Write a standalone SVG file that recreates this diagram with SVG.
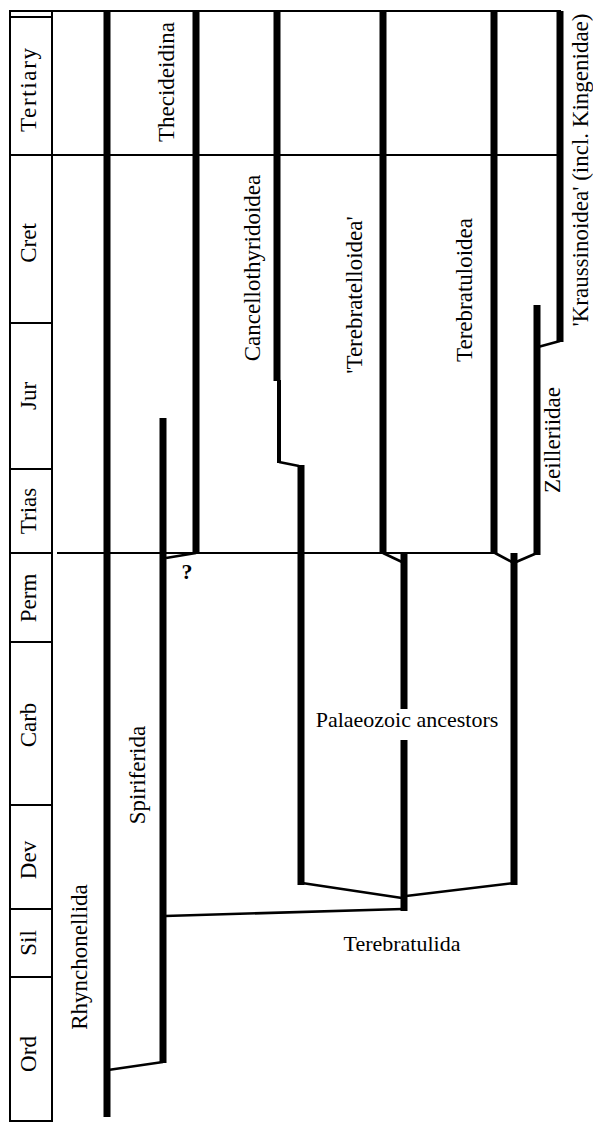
<svg xmlns="http://www.w3.org/2000/svg" width="593" height="1123" viewBox="0 0 593 1123">
<style>
text{font-family:"Liberation Serif","Times New Roman",serif;fill:#000}
.lbl{font-size:23px;text-anchor:middle}
.hl{font-size:22px;text-anchor:middle}
.thick{stroke:#000;stroke-width:7;fill:none}
.med{stroke:#000;stroke-width:4;fill:none}
.thin{stroke:#000;stroke-width:2;fill:none}
.conn{stroke:#000;stroke-width:2.6;fill:none}
</style>
<rect x="0" y="0" width="593" height="1123" fill="#fff"/>
<g id="timescale">
<line class="thin" x1="9" y1="11" x2="561" y2="11"/>
<line class="thin" x1="10" y1="17" x2="52" y2="17"/>
<line class="thin" x1="9" y1="155" x2="561" y2="155"/>
<line class="thin" x1="10" y1="11" x2="10" y2="1121"/>
<line class="thin" x1="52" y1="11" x2="52" y2="1121"/>
<line class="thin" x1="9" y1="1121" x2="53" y2="1121"/>
<line class="thin" x1="10" y1="323" x2="52" y2="323"/>
<line class="thin" x1="10" y1="469" x2="52" y2="469"/>
<line class="thin" x1="10" y1="553" x2="52" y2="553"/>
<line class="thin" x1="10" y1="642" x2="52" y2="642"/>
<line class="thin" x1="10" y1="805" x2="52" y2="805"/>
<line class="thin" x1="10" y1="909" x2="52" y2="909"/>
<line class="thin" x1="10" y1="977" x2="52" y2="977"/>
<text class="lbl" transform="translate(36,90) rotate(-90)" textLength="84" lengthAdjust="spacing">Tertiary</text>
<text class="lbl" transform="translate(36,243) rotate(-90)">Cret</text>
<text class="lbl" transform="translate(36,396) rotate(-90)">Jur</text>
<text class="lbl" transform="translate(36,511) rotate(-90)">Trias</text>
<text class="lbl" transform="translate(36,598) rotate(-90)">Perm</text>
<text class="lbl" transform="translate(36,725) rotate(-90)">Carb</text>
<text class="lbl" transform="translate(36,860) rotate(-90)">Dev</text>
<text class="lbl" transform="translate(36,943) rotate(-90)">Sil</text>
<text class="lbl" transform="translate(36,1054) rotate(-90)">Ord</text>
</g>
<g id="rhynchonellida">
<line class="thick" x1="107" y1="11" x2="107" y2="1117"/>
<text class="lbl" transform="translate(87,957) rotate(-90)">Rhynchonellida</text>
</g>
<g id="spiriferida">
<line class="thick" x1="163" y1="418" x2="163" y2="1063"/>
<text class="lbl" transform="translate(145,775) rotate(-90)">Spiriferida</text>
</g>
<g id="thecideidina">
<line class="thick" x1="196" y1="11" x2="196" y2="554"/>
<text class="lbl" transform="translate(174,82) rotate(-90)">Thecideidina</text>
</g>
<g id="cancellothyridoidea">
<line class="thick" x1="277" y1="11" x2="277" y2="381"/>
<line class="med" x1="279" y1="380" x2="279" y2="463"/>
<line class="thick" x1="301" y1="465" x2="301" y2="885"/>
<text class="lbl" transform="translate(260,268) rotate(-90)">Cancellothyridoidea</text>
</g>
<g id="terebratelloidea">
<line class="thick" x1="383" y1="11" x2="383" y2="554"/>
<text class="lbl" transform="translate(362,295) rotate(-90)">'Terebratelloidea'</text>
</g>
<g id="terebratuloidea">
<line class="thick" x1="494" y1="11" x2="494" y2="554"/>
<text class="lbl" transform="translate(472,290) rotate(-90)">Terebratuloidea</text>
</g>
<g id="zeilleriidae">
<line class="thick" x1="537" y1="305" x2="537" y2="555"/>
<text class="lbl" transform="translate(560,440) rotate(-90)">Zeilleriidae</text>
</g>
<g id="kraussinoidea">
<line class="thick" x1="560" y1="11" x2="560" y2="342"/>
<text class="lbl" transform="translate(588,170) rotate(-90)">'Kraussinoidea' (incl. Kingenidae)</text>
</g>
<g id="palaeozoic-ancestors">
<line class="thick" x1="404" y1="553" x2="404" y2="709"/>
<line class="thick" x1="404" y1="740" x2="404" y2="911"/>
<line class="thick" x1="514" y1="553" x2="514" y2="885"/>
<text class="hl" x="407" y="727">Palaeozoic ancestors</text>
</g>
<g id="terebratulida">
<text class="hl" x="402" y="951">Terebratulida</text>
</g>
<g id="question">
<text x="187" y="579" style="font-size:22px;font-weight:bold;text-anchor:middle">?</text>
</g>
<g id="connectors">
<line class="thin" x1="57" y1="553" x2="494" y2="553"/>
<line class="conn" x1="166" y1="558" x2="196" y2="553"/>
<line class="conn" x1="279" y1="462" x2="299" y2="466"/>
<line class="conn" x1="383" y1="553" x2="402" y2="562"/>
<line class="conn" x1="495" y1="553" x2="512" y2="562"/>
<line class="conn" x1="537" y1="553" x2="516" y2="562"/>
<line class="conn" x1="560" y1="341" x2="538" y2="347"/>
<line class="conn" x1="302" y1="883" x2="402" y2="898"/>
<line class="conn" x1="514" y1="883" x2="406" y2="896"/>
<line class="conn" x1="403" y1="909" x2="165" y2="916"/>
<line class="conn" x1="163" y1="1062" x2="108" y2="1070"/>
</g>
</svg>
